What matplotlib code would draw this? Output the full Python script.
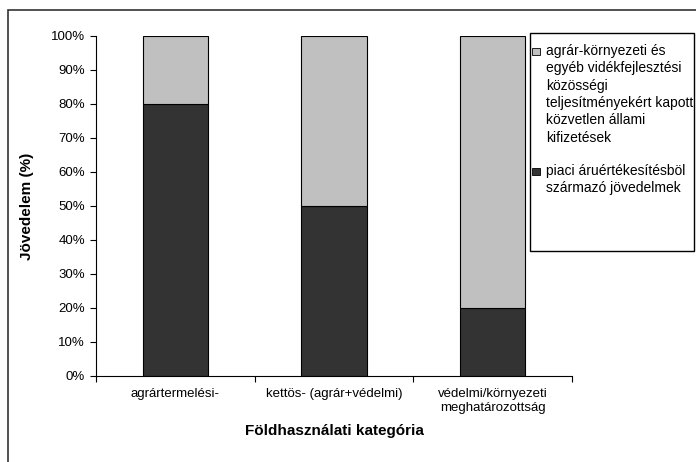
import numpy as np
from matplotlib import pyplot as plt
from matplotlib.patches import Rectangle

plt.rcParams['font.family'] = ['Liberation Sans', 'DejaVu Sans']

categories = ["agrártermelési-", "kettös- (agrár+védelmi)",
              "védelmi/környezeti\nmeghatározottság"]
market_income = [80, 50, 20]
subsidy_income = [20, 50, 80]
series_labels = ["agrár-környezeti és\negyéb vidékfejlesztési\nközösségi\n"
                 "teljesítményekért kapott\nközvetlen állami\nkifizetések",
                 "piaci áruértékesítésböl\nszármazó jövedelmek"]
y_ticks = [0, 10, 20, 30, 40, 50, 60, 70, 80, 90, 100]

dark = '#333333'
light = '#c0c0c0'

W, H = 696, 462
fig = plt.figure(figsize=(W / 100, H / 100), dpi=100)
ax = fig.add_axes([96 / W, 1 - 376 / H, (572 - 96) / W, (376 - 36) / H])

x = np.arange(len(categories))
ax.bar(x, market_income, width=0.41, color=dark, edgecolor='black', linewidth=0.8)
ax.bar(x, subsidy_income, width=0.41, bottom=market_income, color=light,
       edgecolor='black', linewidth=0.8)

ax.set_xlim(-0.5, len(categories) - 0.5)
ax.set_ylim(0, 100)
ax.set_yticks(y_ticks)
ax.set_yticklabels(["%d%%" % v for v in y_ticks], fontsize=9.5)
ax.set_xticks(x)
ax.set_xticklabels(categories, fontsize=9.5)
ax.tick_params(axis='x', length=0, pad=9)
ax.tick_params(axis='y', direction='out', length=4, width=0.8, pad=4)
# separator ticks between categories
ax.set_xticks(np.arange(len(categories) + 1) - 0.5, minor=True)
ax.tick_params(axis='x', which='minor', direction='out', length=4, width=0.8)

for s in ['top', 'right']:
    ax.spines[s].set_visible(False)
for s in ['left', 'bottom']:
    ax.spines[s].set_linewidth(0.8)

ax.set_ylabel("Jövedelem (%)", fontsize=11, fontweight='bold', labelpad=12)
ax.set_xlabel("Földhasználati kategória", fontsize=11, fontweight='bold', labelpad=7)

# outer border
fig.patches.append(Rectangle((8 / W, -0.1), 1.2, 1 - 10 / H + 0.1,
                             transform=fig.transFigure, fill=False,
                             edgecolor='#333333', linewidth=1.2))

# legend box
fig.patches.append(Rectangle((530 / W, 1 - 251 / H), (694 - 530) / W, (251 - 33) / H,
                             transform=fig.transFigure, facecolor='white',
                             edgecolor='black', linewidth=1.0, zorder=5))
leg_colors = [light, dark]
leg_y = [48, 168]
for col, lab, yy in zip(leg_colors, series_labels, leg_y):
    fig.patches.append(Rectangle((532 / W, 1 - (yy + 7) / H), 8 / W, 7 / H,
                                 transform=fig.transFigure, facecolor=col,
                                 edgecolor='black', linewidth=0.6, zorder=6))
    fig.text(546 / W, 1 - (yy - 4) / H, lab, fontsize=10, va='top', ha='left',
             linespacing=1.3, zorder=7)

plt.savefig("out.png", dpi=100)
